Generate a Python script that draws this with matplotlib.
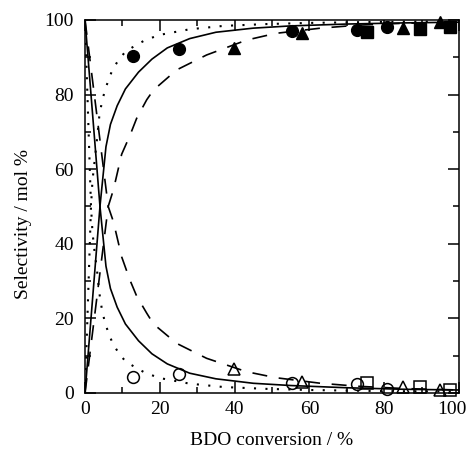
import matplotlib
matplotlib.use('Agg')
import matplotlib.pyplot as plt
import matplotlib.transforms as mtransforms
from matplotlib.ticker import MultipleLocator, FuncFormatter

# measured points (conversion %, selectivity mol %)
circ_conv = [12.8, 25.2, 55.3, 72.8, 80.7]
circ_hi = [90.4, 92.2, 96.9, 97.3, 98.2]
circ_lo = [4.4, 5.1, 2.6, 2.4, 1.1]

tri_conv = [39.8, 57.9, 85.1, 94.9]
tri_hi = [92.4, 96.4, 97.8, 99.5]
tri_lo = [6.4, 3.0, 1.7, 0.8]

sq_conv = [75.3, 89.6, 97.5]
sq_hi = [96.7, 97.5, 98.2]
sq_lo = [2.6, 1.7, 0.8]

# model curves
dot_x = [0, 1.6, 2.0, 2.6, 3.2, 3.8, 4.5, 5.3, 6.3, 7.4, 9.0, 10.8, 13.4, 16.1, 20, 28, 37, 48.6, 60, 80, 100]
dot_hi = [0, 50, 57, 62.5, 68, 74, 78, 81, 84, 86.8, 89.3, 91.5, 93.1, 94.6, 96, 97.5, 98.4, 98.9, 99.2, 99.5, 99.6]
dot_lo = [100, 50, 43, 37.5, 33, 27, 22.5, 19, 16, 13.3, 10.7, 8.5, 6.9, 5.4, 4.0, 2.5, 1.6, 1.1, 0.8, 0.5, 0.4]

sol_x = [0, 4.0, 5.6, 6.8, 8.6, 10.8, 14.3, 17.9, 22, 28, 35, 45, 55, 70, 85, 100]
sol_hi = [0, 50, 66, 72, 77, 81.5, 86, 89.5, 92.5, 95, 96.7, 97.8, 98.4, 98.9, 99.2, 99.4]
sol_lo = [100, 50, 34, 28, 23, 18.5, 14, 10.5, 7.8, 5.3, 3.8, 2.6, 2.0, 1.4, 1.0, 0.8]

das_x = [0, 6.2, 7.6, 9.8, 12, 13.8, 16.5, 18.3, 24.5, 32.5, 43.2, 51, 63, 73, 85, 100]
das_hi = [0, 50, 54.5, 64, 69, 73.6, 78.6, 81.2, 86.6, 90.6, 94.6, 96.4, 97.8, 98.6, 99.1, 99.4]
das_lo = [100, 50, 45.9, 36.5, 30.3, 26, 21.4, 18.5, 13.3, 9.3, 5.7, 4.1, 2.6, 1.8, 1.2, 0.8]

plt.rcParams['font.family'] = ['Liberation Serif', 'DejaVu Serif']
plt.rcParams['font.size'] = 14

fig = plt.figure(figsize=(4.71, 4.5), dpi=100)
ax = fig.add_axes([0.1805, 0.1267, 0.794, 0.829])

for y in (dot_hi, dot_lo):
    ax.plot(dot_x, y, color='k', lw=1.5, linestyle=(0, (1, 4.5)))
for y in (sol_hi, sol_lo):
    ax.plot(sol_x, y, color='k', lw=1.2)
for y in (das_hi, das_lo):
    ax.plot(das_x, y, color='k', lw=1.2, linestyle=(0, (9, 7)))

ms = 8.5
ax.plot(circ_conv, circ_hi, 'o', color='k', ms=ms, clip_on=False)
ax.plot(tri_conv, tri_hi, '^', color='k', ms=ms, clip_on=False)
ax.plot(sq_conv, sq_hi, 's', color='k', ms=ms - 0.5, clip_on=False)
ax.plot(circ_conv, circ_lo, 'o', mfc='none', mec='k', mew=1.1, ms=ms, clip_on=False)
ax.plot(tri_conv, tri_lo, '^', mfc='none', mec='k', mew=1.1, ms=ms, clip_on=False)
ax.plot(sq_conv, sq_lo, 's', mfc='none', mec='k', mew=1.1, ms=ms - 0.5, clip_on=False)

ax.set_xlim(0, 100)
ax.set_ylim(0, 100)
ax.xaxis.set_major_locator(MultipleLocator(20))
ax.xaxis.set_minor_locator(MultipleLocator(10))
ax.yaxis.set_major_locator(MultipleLocator(20))
ax.yaxis.set_minor_locator(MultipleLocator(10))
# the "100" at the right end is drawn separately so it can sit a bit to the left
ax.xaxis.set_major_formatter(FuncFormatter(lambda v, p: '' if v >= 100 else f'{v:.0f}'))
ax.tick_params(which='both', direction='in', top=True, right=True, width=1.1, colors='k')
ax.tick_params(which='major', length=8, labelsize=14)
ax.tick_params(which='minor', length=4.5)
ax.tick_params(axis='x', which='major', pad=6)
ax.tick_params(axis='y', which='major', pad=8)
for s in ax.spines.values():
    s.set_linewidth(1.1)

shift = mtransforms.ScaledTranslation(-5 / 72, -6 / 72, fig.dpi_scale_trans)
ax.text(ax.get_xlim()[1], 0, '100', fontsize=14, ha='center', va='top',
        transform=ax.get_xaxis_transform() + shift)

ax.set_xlabel('BDO conversion / %', fontsize=14)
ax.set_ylabel('Selectivity / mol %', fontsize=14)
ax.xaxis.set_label_coords(0.5, -0.105)
ax.yaxis.set_label_coords(-0.142, 0.453)

fig.savefig('out.png', dpi=100)
plt.close(fig)
